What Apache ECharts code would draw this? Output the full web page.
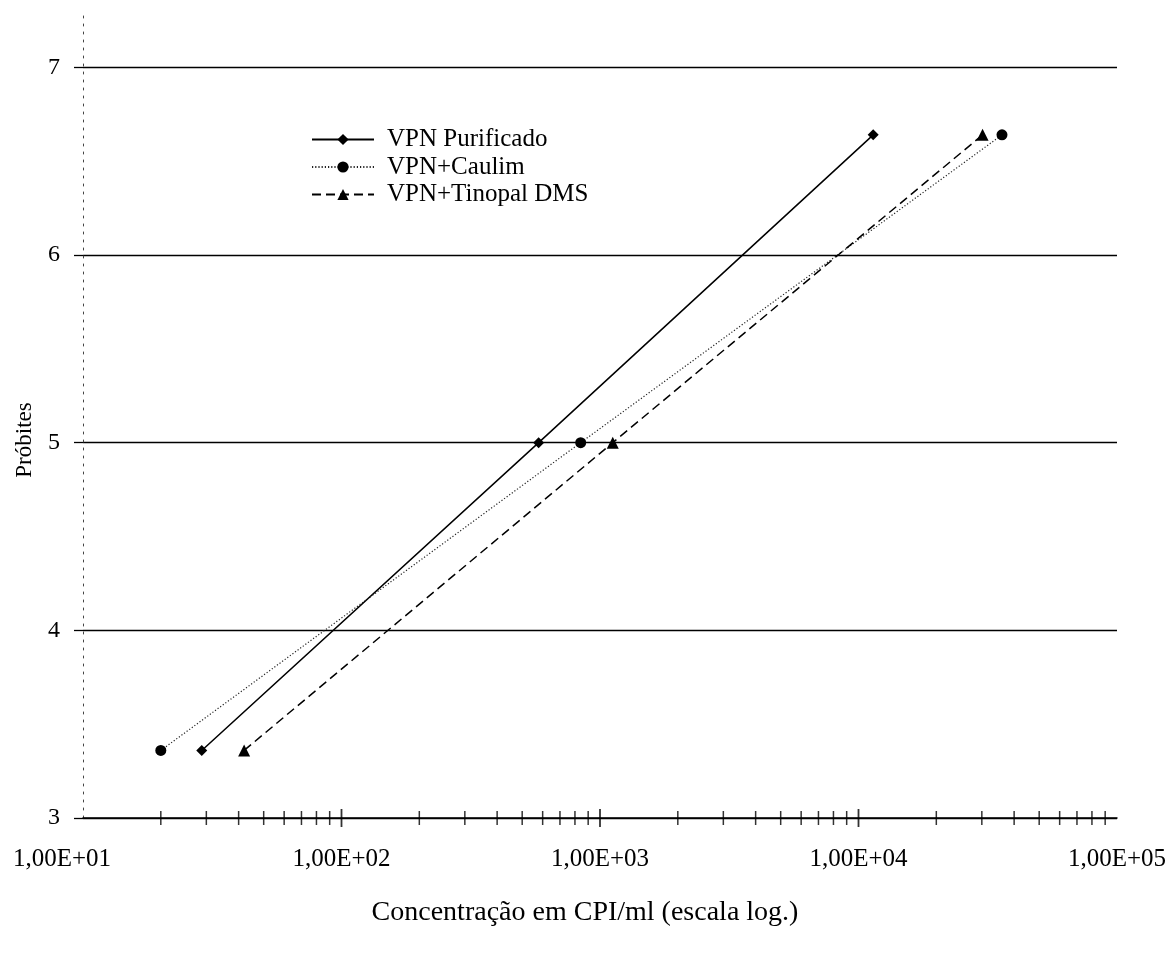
<!DOCTYPE html>
<html>
<head>
<meta charset="utf-8">
<script src="https://cdn.jsdelivr.net/npm/echarts@6/dist/echarts.min.js"></script>
<style>
html,body{margin:0;padding:0;background:#fff;}
#chart{width:1173px;height:955px;}
</style>
</head>
<body>
<div id="chart"></div>
<script>
const seriesNames = ['VPN Purificado', 'VPN+Caulim', 'VPN+Tinopal DMS'];
const purificadoX = [28.8, 579, 11400];
const caulimX = [20, 842, 35900];
const tinopalX = [42, 1120, 30200];
const probitY = [3.36, 5.0, 6.64];
const xTickLabels = ['1,00E+01', '1,00E+02', '1,00E+03', '1,00E+04', '1,00E+05'];
const yTickValues = [3, 4, 5, 6, 7];
const minorTickValues = [20, 30, 40, 50, 60, 70, 80, 90,
  200, 300, 400, 500, 600, 700, 800, 900,
  2000, 3000, 4000, 5000, 6000, 7000, 8000, 9000,
  20000, 30000, 40000, 50000, 60000, 70000, 80000, 90000];
const majorTickValues = [100, 1000, 10000];
const xTitle = 'Concentração em CPI/ml (escala log.)';
const yTitle = 'Próbites';

const FONT = '"Liberation Serif", "Times New Roman", serif';
const pairs = (xs) => xs.map((x, i) => [x, probitY[i]]);

const chart = echarts.init(document.getElementById('chart'), null, {renderer: 'canvas'});
chart.setOption({
  animation: false,
  backgroundColor: '#fff',
  grid: {left: 83, right: 56, top: 11, bottom: 137},
  xAxis: {
    type: 'log', logBase: 10, min: 10, max: 100000,
    axisLine: {show: true, lineStyle: {color: '#000', width: 1.5}},
    axisTick: {show: false},
    splitLine: {show: false},
    axisLabel: {
      margin: 29, color: '#000', fontFamily: FONT, fontSize: 25,
      formatter: function (v) {
        const i = Math.round(Math.log10(v)) - 1;
        const t = xTickLabels[i] || '';
        return i === 0 ? '{a|' + t + '}' : t;
      },
      rich: {a: {fontFamily: FONT, fontSize: 25, color: '#000', padding: [0, 42, 0, 0]}}
    }
  },
  yAxis: {
    type: 'value', min: 3, max: 7.3,
    axisLine: {show: true, lineStyle: {color: '#444', width: 1, type: [2, 6]}},
    axisTick: {show: true, customValues: yTickValues, length: 9, lineStyle: {color: '#000', width: 1.3}},
    axisLabel: {customValues: yTickValues, margin: 23, color: '#000', fontFamily: FONT, fontSize: 24},
    splitLine: {show: true, lineStyle: {color: '#000', width: 1.3}}
  },
  legend: {
    data: seriesNames,
    orient: 'vertical', left: 311, top: 127, padding: 0,
    itemWidth: 62, itemHeight: 14, itemGap: 2.5,
    textStyle: {fontFamily: FONT, fontSize: 25, color: '#000', padding: [0, 0, 0, 8]}
  },
  graphic: [
    {type: 'text', x: 585, y: 913, style: {text: xTitle, font: '28px ' + FONT, fill: '#000', textAlign: 'center', textVerticalAlign: 'middle'}},
    {type: 'text', x: 25, y: 440, rotation: Math.PI / 2, style: {text: yTitle, font: '23px ' + FONT, fill: '#000', textAlign: 'center', textVerticalAlign: 'middle'}}
  ],
  series: [
    {
      name: seriesNames[0], type: 'line', data: pairs(purificadoX),
      symbol: 'diamond', symbolSize: 11, color: '#000',
      lineStyle: {color: '#000', width: 1.5, type: 'solid'},
      itemStyle: {color: '#000'}
    },
    {
      name: seriesNames[1], type: 'line', data: pairs(caulimX),
      symbol: 'circle', symbolSize: 11, color: '#000',
      lineStyle: {color: '#222', width: 1.2, type: [1.2, 2]},
      itemStyle: {color: '#000'}
    },
    {
      name: seriesNames[2], type: 'line', data: pairs(tinopalX),
      symbol: 'triangle', symbolSize: 12, color: '#000',
      lineStyle: {color: '#000', width: 1.5, type: [9, 5]},
      itemStyle: {color: '#000'}
    },
    {
      name: 'minorTicks', type: 'scatter', silent: true, clip: false, z: 5,
      symbol: 'rect', symbolSize: [1.5, 14],
      itemStyle: {color: '#000'},
      data: minorTickValues.map(v => [v, 3])
    },
    {
      name: 'majorTicks', type: 'scatter', silent: true, clip: false, z: 5,
      symbol: 'rect', symbolSize: [1.8, 18],
      itemStyle: {color: '#000'},
      data: majorTickValues.map(v => [v, 3])
    }
  ]
});
</script>
</body>
</html>
